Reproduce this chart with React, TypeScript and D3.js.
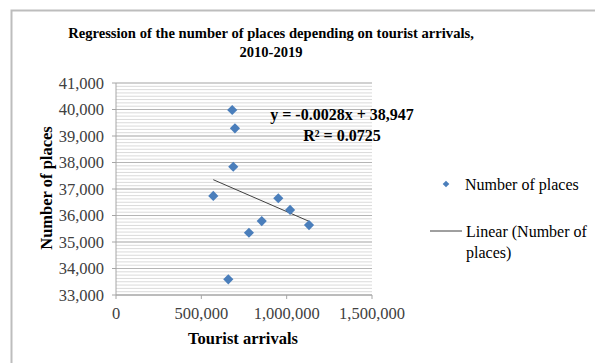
import React from 'react';
import * as d3 from 'd3';

// values (2010-2019)
const touristArrivals = [681000, 697000, 687000, 570000, 951000, 1020000, 854000, 779000, 1131000, 658000];
const numberOfPlaces = [39980, 39290, 37840, 36740, 36650, 36210, 35790, 35350, 35640, 33590];
const xTicks = [0, 500000, 1000000, 1500000];
const yTicks = [33000, 34000, 35000, 36000, 37000, 38000, 39000, 40000, 41000];
const trendSlope = -0.0028;
const trendIntercept = 38947;
const equationLines = ['y = -0.0028x + 38,947', 'R² = 0.0725'];

const W = 595;
const H = 363;
const font = '"Liberation Serif", "Times New Roman", serif';
const blue = '#4a7ebb';

export default function App() {
  const x = d3.scaleLinear().domain([0, 1500000]).range([116, 372]);
  const y = d3.scaleLinear().domain([33000, 41000]).range([295, 83]);
  const fmt = d3.format(',');

  // minor gridlines between the major ones
  const minor = d3.range(33000, 41001, 125);

  const xMin = d3.min(touristArrivals)!;
  const xMax = d3.max(touristArrivals)!;
  const trend = d3.line<number>()
    .x((d) => x(d))
    .y((d) => y(trendSlope * d + trendIntercept));

  const diamond = d3.symbol().type(d3.symbolDiamond2).size(66);

  return (
    <svg width={W} height={H} style={{ position: 'absolute', left: 0, top: 0 }} fontFamily={font}>
      <rect x={0} y={0} width={W} height={H} fill="#fff" />
      <rect x={11.5} y={10.5} width={W + 10} height={H + 10} fill="none" stroke="#bdbdbd" strokeWidth={2} />

      <text x={271} y={38} textAnchor="middle" fontSize={14.6} fontWeight="bold" fill="#000">
        Regression of the number of places depending on tourist arrivals,
      </text>
      <text x={271} y={57} textAnchor="middle" fontSize={14.6} fontWeight="bold" fill="#000">
        2010-2019
      </text>

      {/* gridlines */}
      {minor.map((v) => (
        <line key={'m' + v} x1={x(0)} x2={x(1500000)} y1={y(v)} y2={y(v)} stroke="#dadada" strokeWidth={1} />
      ))}
      {yTicks.map((v) => (
        <line key={'g' + v} x1={x(0)} x2={x(1500000)} y1={y(v)} y2={y(v)} stroke="#b5b5b5" strokeWidth={1} />
      ))}

      {/* axes */}
      <line x1={x(0)} x2={x(0)} y1={y(41000)} y2={y(33000)} stroke="#a6a6a6" />
      <line x1={x(0)} x2={x(1500000)} y1={y(33000)} y2={y(33000)} stroke="#a6a6a6" />
      {yTicks.map((v) => (
        <g key={'yt' + v}>
          <line x1={x(0) - 4} x2={x(0)} y1={y(v)} y2={y(v)} stroke="#a6a6a6" />
          <text x={x(0) - 12} y={y(v)} dy="0.35em" textAnchor="end" fontSize={16.5} fill="#404040">
            {fmt(v)}
          </text>
        </g>
      ))}
      {xTicks.map((v) => (
        <g key={'xt' + v}>
          <line x1={x(v)} x2={x(v)} y1={y(33000)} y2={y(33000) + 4} stroke="#a6a6a6" />
          <text x={x(v)} y={y(33000) + 18} dy="0.35em" textAnchor="middle" fontSize={16.5} fill="#404040">
            {fmt(v)}
          </text>
        </g>
      ))}

      <text x={243} y={344} textAnchor="middle" fontSize={16.5} fontWeight="bold" fill="#000">
        Tourist arrivals
      </text>
      <text transform="translate(52,188) rotate(-90)" textAnchor="middle" fontSize={16.5} fontWeight="bold" fill="#000">
        Number of places
      </text>

      {/* trendline */}
      <path d={trend([xMin, xMax]) || ''} fill="none" stroke="#404040" strokeWidth={1} />

      {/* points */}
      {touristArrivals.map((v, i) => (
        <path key={'p' + i} d={diamond() || ''} transform={`translate(${x(v)},${y(numberOfPlaces[i])})`} fill={blue} />
      ))}

      {/* equation */}
      {equationLines.map((t, i) => (
        <text key={t} x={342} y={120 + i * 21} textAnchor="middle" fontSize={16} fontWeight="bold" fill="#000">
          {t}
        </text>
      ))}

      {/* legend */}
      <path d={d3.symbol().type(d3.symbolDiamond2).size(28)() || ''} transform="translate(446,184)" fill={blue} />
      <text x={465} y={184} dy="0.35em" fontSize={16} fill="#000">Number of places</text>
      <line x1={430} x2={462} y1={231} y2={231} stroke="#404040" />
      <text x={466} y={231} dy="0.35em" fontSize={16} fill="#000">Linear (Number of</text>
      <text x={466} y={252} dy="0.35em" fontSize={16} fill="#000">places)</text>
    </svg>
  );
}
